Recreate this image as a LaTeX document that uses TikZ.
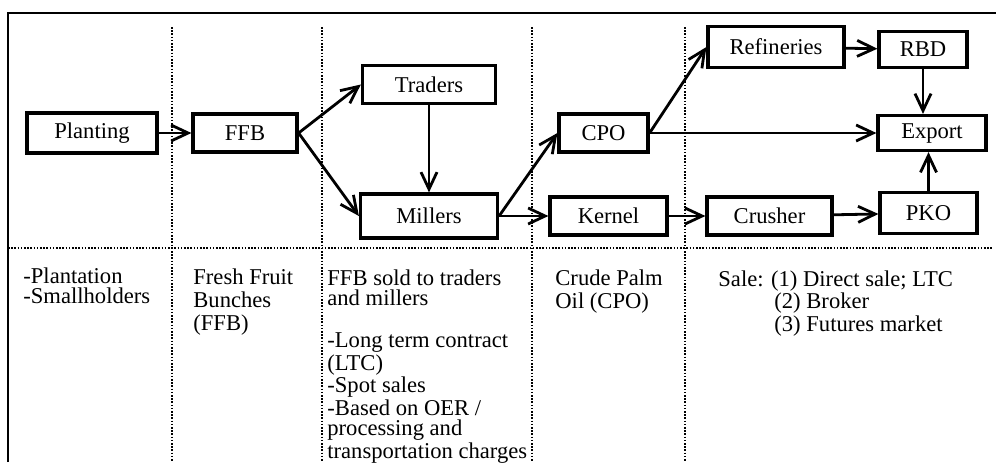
\documentclass[tikz,border=0pt]{standalone}
\usepackage{fontspec}
\setmainfont{Liberation Serif}
\usetikzlibrary{shapes,arrows.meta}

\begin{document}
\begin{tikzpicture}[x=0.5pt, y=-0.5pt, node distance=80pt, auto]
	% % % % % % % % % % % % % % % % % % % % % % % % % % % % % %
	% Define styles
	\tikzstyle{block} = [rectangle, draw, line width=1.6pt, inner sep=0pt, minimum height=19pt,
					     font=\fontsize{11.3pt}{13pt}\selectfont]
	\tikzstyle{line} = [draw, -{Straight Barb[length=8.5pt,width=8pt]}, line width=1.4pt]
	\tikzstyle{note} = [anchor=north west, inner sep=0pt, align=left, font=\fontsize{11.3pt}{10.2pt}\selectfont]
	\tikzstyle{sep} = [line width=1.2pt, dash pattern=on 0.8pt off 0.8pt]

	\useasboundingbox (0,0) rectangle (996,462);
	% frame and column separators
	\draw [line width=1.2pt] (8,462) -- (8,13) -- (996,13);
	\draw [sep] (8,248) -- (992,248);
	\draw [sep] (172,27) -- (172,462);
	\draw [sep] (322,27) -- (322,462);
	\draw [sep] (532,27) -- (532,462);
	\draw [sep] (685,27) -- (685,462);

	% % % % % % % % % % % % % % % % % % % % % % % % % % % % % %
	% Place nodes
	\node [block, minimum width=65pt, minimum height=20pt] (pl) at (92,133) {Planting};
	\node [block, minimum width=52pt, right of=pl, node distance=76.5pt] (ffb) {FFB};
	% traders and millers
	\node [block, minimum width=66.5pt, right of=ffb, node distance=92pt, yshift=24.25pt] (tr) {Traders};
	\node [block, minimum width=68.5pt, minimum height=22pt, below of=tr, node distance=65.75pt] (ml) {Millers};
	% mill output
	\node [block, minimum width=44.5pt, right of=ffb, node distance=179.25pt] (cpo) {CPO};
	\node [block, minimum width=58.5pt, right of=ml, node distance=89.75pt] (kr) {Kernel};
	% %last column
	\node [block, minimum width=68pt, minimum height=20.5pt, right of=cpo, node distance=86.25pt, yshift=43pt] (rf) {Refineries};
	\node [block, minimum width=62.5pt, right of=kr, node distance=80.5pt] (cr) {Crusher};
	\node [block, minimum width=54pt, minimum height=17.5pt, right of=cpo, node distance=164.25pt] (ex) {Export};
	\node [block, minimum width=44pt, minimum height=18pt, above of=ex, node distance=41.75pt, xshift=-4.5pt] (rbd) {RBD};
	\node [block, minimum width=48.5pt, minimum height=20.5pt, below of=ex, node distance=40pt, xshift=-1.75pt] (pko) {PKO};

	% notes under the chain
	\node [note] (n1) at (23,267) {-Plantation\\-Smallholders};
	\node [note, font=\fontsize{11.3pt}{11.5pt}\selectfont] (n2) at (193,268) {Fresh Fruit\\Bunches\\(FFB)};
	\node [note] (n3) at (327,269) {FFB sold to traders\\and millers\\[11pt]-Long term contract\\(LTC)\\-Spot sales\\-Based on OER /\\processing and\\transportation charges};
	\node [note, font=\fontsize{11.3pt}{11.5pt}\selectfont] (n4) at (555,269) {Crude Palm\\Oil (CPO)};
	\node [note] (n5) at (718,270) {Sale: (1) Direct sale; LTC\\\hspace*{28pt}(2) Broker\\\hspace*{28pt}(3) Futures market};

	% Draw edges
	\path [line] (pl) -- (ffb);
	\path [line] (ffb.east) -- (tr.west);
	\path [line] (ffb.east) -- (ml.west);
	\path [line] (tr) -- (ml);
	% %
	\path [line] (ml.east) -- (cpo.west);
	\path [line] (ml.east) -- (kr.west);
	\path [line] (cpo.east) -- (rf.west);
	\path [line] (cpo.east) -- (ex.west);
	% %
	\path [line] (rf) -- (rbd);
	\path [line] (rbd.south) -- (rbd.south |- ex.north);
	\path [line] (kr) -- (cr);
	\path [line] (cr) -- (pko);
	\path [line] (pko.north) -- (pko.north |- ex.south);
\end{tikzpicture}
\end{document}
